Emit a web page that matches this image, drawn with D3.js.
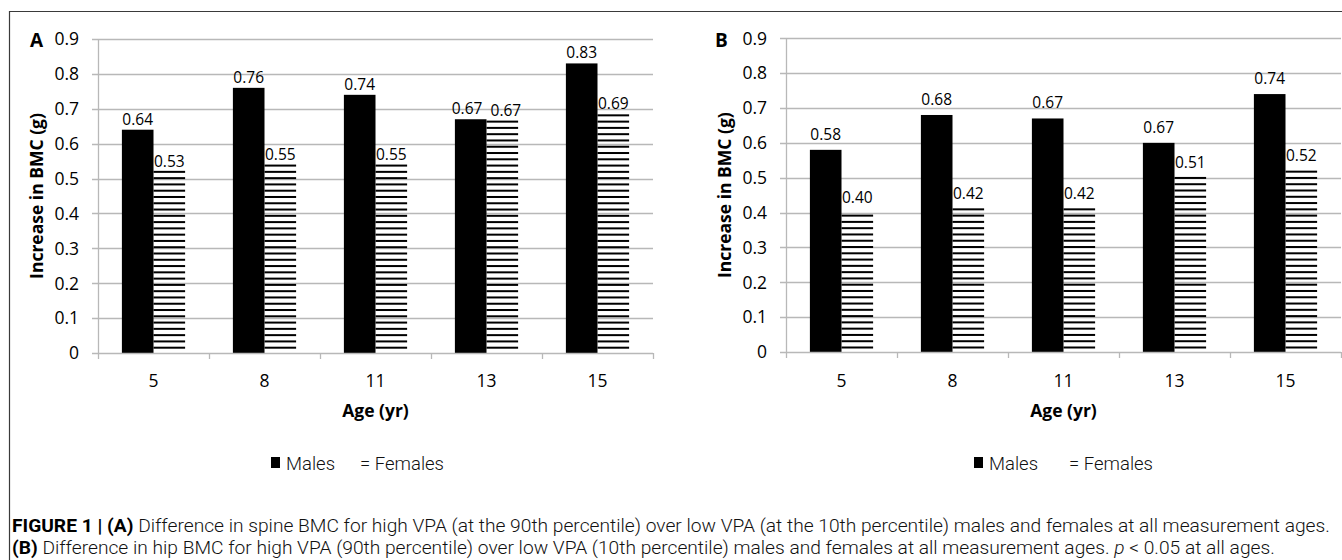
<!DOCTYPE html>
<html>
<head>
<meta charset="utf-8">
<script src="https://cdn.jsdelivr.net/npm/d3@7"></script>
<style>
  html, body { margin: 0; padding: 0; background: #fff; }
  svg { display: block; }
</style>
</head>
<body>
<svg id="chart" width="1342" height="560"></svg>
<script>
// ---------- DATA ----------
const ages = ["5", "8", "11", "13", "15"];
const seriesNames = ["Males", "Females"];

// Panel A (spine BMC) – bar heights as drawn, and their printed labels
const spineMales = [0.64, 0.76, 0.74, 0.67, 0.83];
const spineFemales = [0.52, 0.54, 0.54, 0.665, 0.685];
const spineMaleLabels = ["0.64", "0.76", "0.74", "0.67", "0.83"];
const spineFemaleLabels = ["0.53", "0.55", "0.55", "0.67", "0.69"];

// Panel B (hip BMC)
const hipMales = [0.58, 0.68, 0.67, 0.60, 0.74];
const hipFemales = [0.40, 0.41, 0.41, 0.50, 0.52];
const hipMaleLabels = ["0.58", "0.68", "0.67", "0.67", "0.74"];
const hipFemaleLabels = ["0.40", "0.42", "0.42", "0.51", "0.52"];

const yTicks = [0, 0.1, 0.2, 0.3, 0.4, 0.5, 0.6, 0.7, 0.8, 0.9];
const yTickLabels = ["0", "0.1", "0.2", "0.3", "0.4", "0.5", "0.6", "0.7", "0.8", "0.9"];

const yTitle = "Increase in BMC (g)";
const xTitle = "Age (yr)";

const captionA = ["FIGURE 1 | (A)", " Difference in spine BMC for high VPA (at the 90th percentile) over low VPA (at the 10th percentile) males and females at all measurement ages."];
const captionB = ["(B)", " Difference in hip BMC for high VPA (90th percentile) over low VPA (10th percentile) males and females at all measurement ages. ", "p", " < 0.05 at all ages."];

// ---------- LAYOUT ----------
const svg = d3.select("#chart");
svg.append("rect").attr("width", 1342).attr("height", 560).attr("fill", "#fff");

// outer frame
svg.append("line").attr("x1", 9).attr("x2", 1342).attr("y1", 11.5).attr("y2", 11.5)
  .attr("stroke", "#3a3a3a").attr("stroke-width", 1.2);
svg.append("line").attr("x1", 9.5).attr("x2", 9.5).attr("y1", 11).attr("y2", 560)
  .attr("stroke", "#3a3a3a").attr("stroke-width", 1.2);

const chartFont = "'Open Sans', 'DejaVu Sans', sans-serif";
const captionFont = "Roboto, 'Liberation Sans', Arial, sans-serif";
const gridColor = "#b8b8b8";

const panels = [
  { letter: "A", males: spineMales, females: spineFemales, mLab: spineMaleLabels, fLab: spineFemaleLabels,
    x0: 98, x1: 653, yTop: 39, yBase: 353, labelGap: 5, letterX: 30, titleX: 43, hatchOffset: 5.3,
    legendX: 271, legendEnd: 444 },
  { letter: "B", males: hipMales, females: hipFemales, mLab: hipMaleLabels, fLab: hipFemaleLabels,
    x0: 786, x1: 1341, yTop: 38.3, yBase: 352, labelGap: 10, letterX: 715, titleX: 731, hatchOffset: 4.5,
    legendX: 974, legendEnd: 1153 }
];

panels.forEach(p => {
  const g = svg.append("g");
  const y = d3.scaleLinear().domain([0, 0.9]).range([p.yBase, p.yTop]);
  const x = d3.scaleBand().domain(ages).range([p.x0, p.x1]).paddingInner(0).paddingOuter(0);
  const xs = d3.scaleBand().domain(seriesNames).range([0, x.bandwidth()]).paddingInner(0).paddingOuter(0.756);

  // gridlines (excluding 0) with outside tick stubs
  g.selectAll(".grid").data(yTicks.filter(t => t > 0)).join("line")
    .attr("x1", p.x0 - 6).attr("x2", p.x1)
    .attr("y1", d => Math.round(y(d)) + 0.5).attr("y2", d => Math.round(y(d)) + 0.5)
    .attr("stroke", gridColor).attr("stroke-width", 1.3);

  // y tick labels
  g.selectAll(".ytl").data(yTicks).join("text")
    .attr("x", p.x0 - 19).attr("y", d => y(d))
    .attr("dy", "0.36em")
    .attr("text-anchor", "end")
    .attr("font-family", chartFont).attr("font-size", 17.5).attr("fill", "#000")
    .text((d, i) => yTickLabels[i]);

  // male bars
  g.selectAll(".mbar").data(p.males).join("rect")
    .attr("x", (d, i) => x(ages[i]) + xs("Males"))
    .attr("width", xs.bandwidth())
    .attr("y", d => y(d))
    .attr("height", d => p.yBase - y(d))
    .attr("fill", "#000");

  // female bars: horizontal hatch lines aligned from the baseline
  p.females.forEach((v, i) => {
    const top = y(v);
    const bx = x(ages[i]) + xs("Females");
    const period = 6.28;
    const centers = d3.range(p.yBase - p.hatchOffset, top - 1.2, -period);
    g.selectAll(null).data(centers).join("rect")
      .attr("x", bx).attr("width", xs.bandwidth())
      .attr("y", c => c - 1).attr("height", 2)
      .attr("fill", "#000");
  });

  // y axis line and x axis line
  g.append("line").attr("x1", p.x0 + 0.5).attr("x2", p.x0 + 0.5).attr("y1", p.yTop).attr("y2", p.yBase)
    .attr("stroke", gridColor).attr("stroke-width", 1.3);
  g.append("line").attr("x1", p.x0 - 6).attr("x2", p.x1).attr("y1", p.yBase + 0.5).attr("y2", p.yBase + 0.5)
    .attr("stroke", gridColor).attr("stroke-width", 1.3);
  // x tick marks at category boundaries
  const bounds = ages.map(a => x(a)).concat([p.x1]);
  g.selectAll(".xt").data(bounds).join("line")
    .attr("x1", d => Math.round(d) + 0.5).attr("x2", d => Math.round(d) + 0.5)
    .attr("y1", p.yBase).attr("y2", p.yBase + 6)
    .attr("stroke", gridColor).attr("stroke-width", 1.3);

  // x tick labels
  g.selectAll(".xtl").data(ages).join("text")
    .attr("x", d => x(d) + x.bandwidth() / 2).attr("y", 387)
    .attr("text-anchor", "middle")
    .attr("font-family", chartFont).attr("font-size", 17.5).attr("fill", "#000")
    .text(d => d);

  // data labels
  const mLabels = g.selectAll(".mlab").data(p.males).join("text")
    .attr("x", (d, i) => x(ages[i]) + xs("Males") + xs.bandwidth() / 2)
    .attr("y", d => y(d) - p.labelGap)
    .attr("text-anchor", "middle")
    .attr("font-family", chartFont).attr("font-size", 15.5).attr("fill", "#000")
    .text((d, i) => p.mLab[i]);
  const fLabels = g.selectAll(".flab").data(p.females).join("text")
    .attr("x", (d, i) => x(ages[i]) + xs("Females") + xs.bandwidth() / 2)
    .attr("y", d => y(d) - p.labelGap)
    .attr("text-anchor", "middle")
    .attr("font-family", chartFont).attr("font-size", 15.5).attr("fill", "#000")
    .text((d, i) => p.fLab[i]);
  // push apart labels of the same group that collide
  const mNodes = mLabels.nodes(), fNodes = fLabels.nodes();
  mNodes.forEach((mn, i) => {
    const fn = fNodes[i];
    const mb = mn.getBBox(), fb = fn.getBBox();
    const vOverlap = Math.abs(mb.y - fb.y) < mb.height * 0.8;
    const overlap = (mb.x + mb.width + 8) - fb.x;
    if (vOverlap && overlap > 0) {
      d3.select(mn).attr("x", +d3.select(mn).attr("x") - overlap / 2);
      d3.select(fn).attr("x", +d3.select(fn).attr("x") + overlap / 2);
    }
  });

  // axis titles
  g.append("text")
    .attr("transform", `translate(${p.titleX}, ${(p.yTop + p.yBase) / 2}) rotate(-90)`)
    .attr("text-anchor", "middle")
    .attr("font-family", chartFont).attr("font-size", 17.5).attr("font-weight", "bold")
    .text(yTitle);
  g.append("text")
    .attr("x", (p.x0 + p.x1) / 2).attr("y", 417)
    .attr("text-anchor", "middle")
    .attr("font-family", chartFont).attr("font-size", 17.5).attr("font-weight", "bold")
    .text(xTitle);

  // panel letter
  g.append("text")
    .attr("x", p.letterX).attr("y", 47)
    .attr("font-family", chartFont).attr("font-size", 19).attr("font-weight", "bold")
    .text(p.letter);

  // legend
  const lg = g.append("g").attr("transform", `translate(${p.legendX}, 463)`);
  lg.append("rect").attr("x", 0).attr("y", -6).attr("width", 9).attr("height", 11).attr("fill", "#000");
  lg.append("text").attr("x", 15).attr("y", 0).attr("dy", "0.36em")
    .attr("font-family", captionFont).attr("font-weight", 300).attr("font-size", 18.5).attr("fill", "#111")
    .text(seriesNames[0]);
  lg.append("text").attr("y", 0).attr("dy", "0.36em")
    .attr("text-anchor", "end").attr("x", p.legendEnd - p.legendX)
    .attr("font-family", captionFont).attr("font-weight", 300).attr("font-size", 18.5).attr("fill", "#111")
    .text("= " + seriesNames[1]);
});

// ---------- CAPTION ----------
const cap = svg.append("g");
const l1 = cap.append("text").attr("x", 12).attr("y", 532)
  .attr("font-family", captionFont).attr("font-weight", 300).attr("font-size", 16).attr("fill", "#111");
l1.append("tspan").attr("font-weight", "bold").attr("fill", "#000").text(captionA[0]);
l1.append("tspan").text(captionA[1]);
const len1 = l1.node().getComputedTextLength();
const fs = 16 * (1330 - 12) / len1;
l1.attr("font-size", fs);

const l2 = cap.append("text").attr("x", 12).attr("y", 554)
  .attr("font-family", captionFont).attr("font-weight", 300).attr("font-size", fs).attr("fill", "#111");
l2.append("tspan").attr("font-weight", "bold").attr("fill", "#000").text(captionB[0]);
l2.append("tspan").text(captionB[1]);
l2.append("tspan").attr("font-style", "italic").text(captionB[2]);
l2.append("tspan").text(captionB[3]);
</script>
</body>
</html>
